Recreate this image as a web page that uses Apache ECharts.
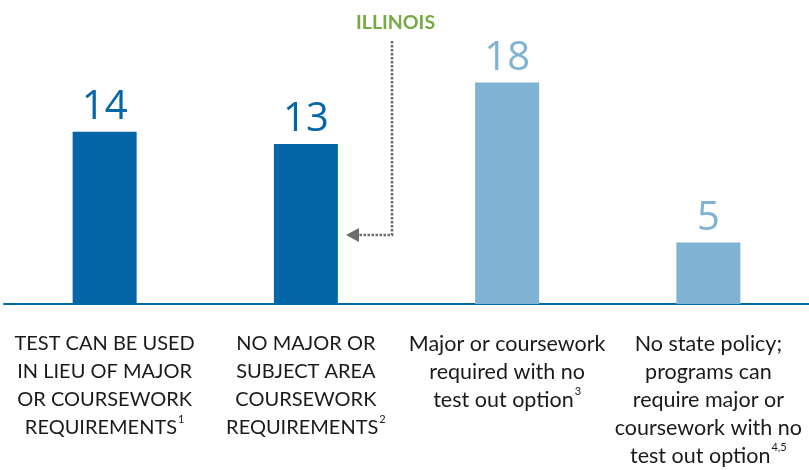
<!DOCTYPE html>
<html>
<head>
<meta charset="utf-8">
<script src="https://cdn.jsdelivr.net/npm/echarts@6/dist/echarts.min.js"></script>
<style>
  html, body { margin: 0; padding: 0; background: #fff; }
  #chart { width: 809px; height: 470px; }
</style>
</head>
<body>
<div id="chart"></div>
<script>
const categories = [
  ['TEST CAN BE USED', 'IN LIEU OF MAJOR', 'OR COURSEWORK', 'REQUIREMENTS'],
  ['NO MAJOR OR', 'SUBJECT AREA', 'COURSEWORK', 'REQUIREMENTS'],
  ['Major or coursework', 'required with no', 'test out option'],
  ['No state policy;', 'programs can', 'require major or', 'coursework with no', 'test out option'],
];
const footnotes = ['1', '2', '3', '4,5'];
const values = [14, 13, 18, 5];
const barColors = ['#0466a7', '#0466a7', '#80b3d3', '#80b3d3'];

const DARK = '#0466a7';
const chart = echarts.init(document.getElementById('chart'));

// uppercase lines get a slightly smaller size, like the original's caps
const labelText = (lines, note) => {
  const style = lines[0] === lines[0].toUpperCase() ? 'c' : 't';
  const body = lines.slice(0, -1).map((l) => `{${style}|${l}}`);
  body.push(`{${style}|${lines[lines.length - 1]}}{sup|${note}}`);
  return body.join('\n');
};

chart.setOption({
  animation: false,
  grid: {
    left: 4, right: 0, top: 58, bottom: 166,
  },
  xAxis: {
    type: 'category',
    data: categories.map((c, i) => labelText(c, footnotes[i])),
    axisLine: { show: true, lineStyle: { color: DARK, width: 2 } },
    axisTick: { show: false },
    axisLabel: {
      interval: 0,
      margin: 26,
      align: 'center',
      rich: {
        t: {
          fontFamily: 'Lato', fontSize: 21.5, lineHeight: 28, color: '#1a1a1a',
        },
        c: {
          fontFamily: 'Lato', fontSize: 20, lineHeight: 28, color: '#1a1a1a',
        },
        sup: {
          fontFamily: 'Lato', fontSize: 11, lineHeight: 28, color: '#1a1a1a',
          verticalAlign: 'top', padding: [0, 0, 2, 1],
        },
      },
    },
  },
  yAxis: {
    type: 'value', min: 0, max: 20, show: false, splitLine: { show: false },
  },
  series: [{
    type: 'bar',
    barWidth: 64,
    data: values.map((v, i) => ({
      value: v,
      itemStyle: { color: barColors[i] },
      label: { color: barColors[i] },
    })),
    label: {
      show: true,
      position: 'top',
      distance: 4,
      fontFamily: 'Open Sans',
      fontSize: 40,
      lineHeight: 40,
    },
  }],
  graphic: [
    {
      type: 'text',
      left: 356,
      top: 13,
      style: {
        text: 'ILLINOIS', fill: '#76a844', font: 'bold 19.5px Lato',
      },
    },
    {
      type: 'polyline',
      shape: { points: [[392, 41], [392, 235], [359, 235]] },
      style: {
        stroke: '#6d6d6d', lineWidth: 2.5, lineDash: [2.5, 1.5], fill: null,
      },
    },
    {
      type: 'polygon',
      shape: { points: [[346, 235], [359, 228], [359, 242]] },
      style: { fill: '#6d6d6d' },
    },
  ],
});
</script>
</body>
</html>
